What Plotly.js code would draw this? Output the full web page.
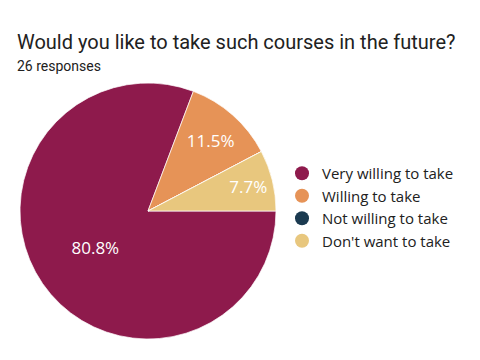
<!DOCTYPE html>
<html>
<head>
<meta charset="utf-8">
<script src="https://cdn.plot.ly/plotly-3.0.1.min.js"></script>
<style>html,body{margin:0;padding:0;background:#fff;}#chart{width:480px;height:360px;}</style>
</head>
<body>
<div id="chart"></div>
<script>
const titleText = "Would you like to take such courses in the future?";
const subtitleText = "26 responses";
const categories = ["Very willing to take", "Willing to take", "Not willing to take", "Don't want to take"];
const counts = [21, 3, 0, 2];
const colors = ["#8E1A4C", "#E69357", "#1B3A50", "#E8C77E"];

const pieTrace = {
  type: "pie",
  labels: categories,
  values: counts,
  sort: false,
  direction: "clockwise",
  rotation: 90,
  showlegend: false,
  marker: {colors: colors, line: {color: "rgba(255,255,255,0.7)", width: 1}},
  textinfo: "percent",
  texttemplate: "%{percent:.1%}",
  textposition: "inside",
  insidetextorientation: "horizontal",
  insidetextfont: {family: "Open Sans, sans-serif", size: 17, color: "#ffffff"},
  hoverinfo: "none",
  domain: {x: [20/480, 276/480], y: [1 - 339/360, 1 - 83/360]}
};

// legend entries with round markers
const legendTraces = categories.map((c, i) => ({
  type: "scatter",
  mode: "markers",
  x: [null], y: [null],
  name: c,
  marker: {color: colors[i], size: 14, symbol: "circle"},
  showlegend: true,
  hoverinfo: "none"
}));

const layout = {
  width: 480, height: 360,
  margin: {l: 0, r: 0, t: 0, b: 0},
  paper_bgcolor: "#ffffff",
  plot_bgcolor: "rgba(0,0,0,0)",
  xaxis: {visible: false, domain: [0.99, 1]},
  yaxis: {visible: false, domain: [0.99, 1]},
  showlegend: true,
  legend: {
    x: 282/480, y: 1 - 157/360, xanchor: "left", yanchor: "top",
    font: {family: "Open Sans, sans-serif", size: 15, color: "#212121"},
    tracegroupgap: 0
  },
  annotations: [
    {text: titleText, x: 15/480, y: 1 - 42/360, xref: "paper", yref: "paper", xanchor: "left", yanchor: "middle", showarrow: false,
     font: {family: "Roboto, sans-serif", size: 20, color: "#212121"}},
    {text: subtitleText, x: 15/480, y: 1 - 66/360, xref: "paper", yref: "paper", xanchor: "left", yanchor: "middle", showarrow: false,
     font: {family: "Roboto, sans-serif", size: 14, color: "#212121"}}
  ]
};

Plotly.newPlot("chart", [pieTrace].concat(legendTraces), layout, {displayModeBar: false, staticPlot: true});
</script>
</body>
</html>
